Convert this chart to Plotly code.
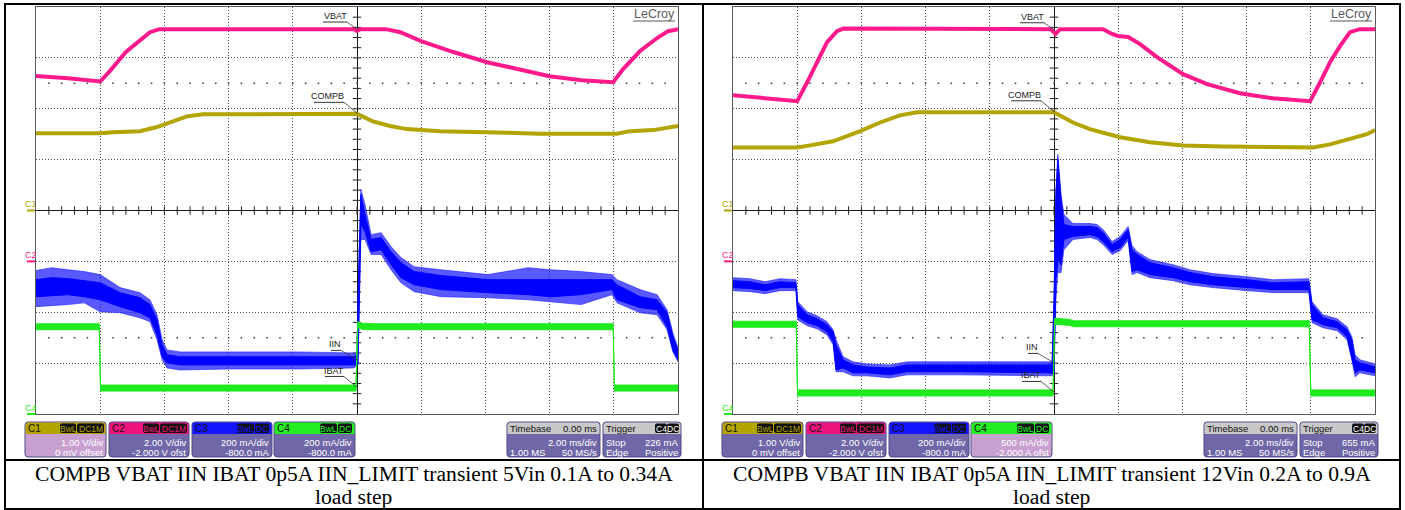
import numpy as np
import plotly.graph_objects as go

W, H = 1405, 510

# ======================= DATA (read from the two captures) =======================
# time in ms (2 ms/div, trigger at centre), voltages in V, currents in mA

# ---- left capture: 5 Vin, 0.1 A -> 0.34 A load step ----
L_VBAT_T = [-10, -9.0, -8.0, -7.7, -7.2, -6.76, -6.45, -6.15, -0.1, 0.0, 0.1, 0.9, 1.35, 2.0, 3.0,
            4.05, 5.0, 6.0, 7.0, 7.98, 8.29, 8.82, 9.35, 9.69, 10]
L_VBAT_V = [7.29, 7.20, 7.07, 7.48, 8.23, 8.66, 9.01, 9.13, 9.13, 9.06, 9.13, 9.13, 9.01, 8.66, 8.23,
            7.83, 7.56, 7.28, 7.12, 7.04, 7.56, 8.27, 8.78, 9.05, 9.13]

L_COMPB_T = [-10, -8.0, -7.6, -6.76, -6.23, -5.73, -5.30, -4.80, -0.1, 0.0, 0.50, 1.03, 1.56, 2.59,
             4.67, 5.70, 8.10, 8.50, 9.22, 10]
L_COMPB_V = [1.52, 1.52, 1.54, 1.56, 1.64, 1.75, 1.85, 1.89, 1.90, 1.90, 1.75, 1.66, 1.60, 1.56,
             1.53, 1.51, 1.51, 1.56, 1.58, 1.66]

L_IIN_T = [-10, -9.5, -9.0, -8.5, -8.0, -7.38, -6.76, -6.45, -6.23, -6.07, -5.92, -5.51, -3.96, -1.78,
           -0.09, 0.0, 0.03, 0.12, 0.25, 0.44, 0.75, 1.06, 1.37, 1.78, 2.62, 4.08, 5.33, 6.04, 6.98,
           7.94, 8.10, 8.82, 9.35, 9.66, 9.84, 10.0]
L_IIN_LO = [461, 465, 469, 461, 449, 422, 398, 378, 311, 225, 201, 193, 193, 193, 193, 193, 193, 745,
            717, 638, 646, 587, 536, 508, 489, 477, 469, 461, 469, 489, 449, 418, 410, 343, 252, 213]
L_IIN_HI = [528, 536, 532, 524, 516, 477, 457, 430, 370, 272, 233, 225, 225, 225, 225, 233, 449, 863,
            784, 686, 694, 638, 595, 560, 544, 528, 528, 528, 528, 528, 508, 461, 449, 398, 303, 252]
L_IIN_PK_LO = [422, 426, 430, 437, 402, 398, 378, 363, 292, 213, 181, 173, 177, 177, 181, 193, 193, 686,
               686, 627, 627, 567, 516, 481, 461, 457, 449, 441, 430, 469, 437, 398, 390, 331, 244, 205]
L_IIN_PK_HI = [564, 575, 567, 560, 548, 497, 477, 449, 390, 292, 252, 244, 244, 244, 240, 233, 449, 883,
               824, 705, 713, 658, 615, 579, 567, 548, 575, 567, 560, 548, 528, 489, 469, 410, 319, 260]

L_IBAT_T = [-10, -8.03, -7.99, -0.03, 0.02, 0.15, 0.5, 7.98, 8.02, 10]
L_IBAT_MA = [343, 343, 102, 102, 351, 345, 343, 343, 102, 102]

# ---- right capture: 12 Vin, 0.2 A -> 0.9 A load step ----
R_VBAT_T = [-10, -9.0, -8.0, -7.69, -7.38, -7.07, -6.76, -6.57, -0.1, 0.05, 0.19, 1.53, 1.81, 1.99,
            2.31, 2.68, 3.21, 4.02, 4.77, 5.79, 6.82, 7.98, 8.29, 8.60, 8.91, 9.22, 9.53, 10]
R_VBAT_V = [6.53, 6.41, 6.30, 7.04, 7.83, 8.62, 9.05, 9.15, 9.13, 8.94, 9.13, 9.13, 8.94, 8.86,
            8.82, 8.54, 8.03, 7.36, 6.97, 6.61, 6.41, 6.30, 7.04, 7.83, 8.46, 9.01, 9.13, 9.13]

R_COMPB_T = [-10, -8.0, -7.60, -6.88, -6.04, -5.42, -4.80, -4.27, 0.0, 0.59, 1.12, 2.06, 2.99, 4.02,
             5.26, 6.82, 8.07, 8.60, 9.22, 9.75, 10]
R_COMPB_V = [1.24, 1.24, 1.28, 1.36, 1.56, 1.73, 1.87, 1.93, 1.93, 1.73, 1.60, 1.44, 1.34, 1.28,
             1.26, 1.24, 1.24, 1.30, 1.40, 1.50, 1.58]

R_IIN_T = [-10, -9.47, -9.0, -8.54, -8.04, -7.98, -7.69, -7.38, -7.07, -6.88, -6.79, -6.57, -6.26,
           -5.83, -5.11, -4.58, -2.93, -0.06, 0.0, 0.06, 0.12, 0.22, 0.31, 0.59, 1.12, 1.34, 1.53,
           1.81, 2.06, 2.31, 2.43, 2.59, 2.99, 3.71, 4.24, 4.95, 6.01, 6.82, 7.94, 8.04, 8.38, 8.82,
           9.13, 9.28, 9.38, 9.53, 10.0]
R_IIN_LO = [497, 493, 485, 497, 497, 382, 359, 347, 323, 284, 173, 181, 162, 162, 154, 166, 166, 162,
            162, 528, 607, 587, 686, 698, 705, 698, 678, 638, 654, 694, 560, 567, 548, 536, 520, 508,
            497, 489, 489, 370, 351, 339, 303, 225, 162, 173, 162]
R_IIN_HI = [524, 520, 508, 520, 516, 430, 390, 374, 351, 323, 272, 213, 193, 185, 181, 193, 193, 193,
            449, 863, 1001, 843, 745, 737, 737, 733, 713, 666, 686, 725, 646, 627, 595, 575, 556, 540,
            528, 516, 520, 430, 378, 363, 331, 292, 213, 201, 185]
R_IIN_PK_LO = [485, 481, 473, 485, 485, 370, 347, 335, 311, 272, 166, 166, 150, 150, 142, 154, 154, 150,
               162, 449, 556, 556, 646, 686, 694, 686, 666, 627, 642, 682, 548, 556, 536, 524, 508, 497,
               485, 477, 477, 359, 339, 327, 292, 213, 146, 162, 150]
R_IIN_PK_HI = [536, 532, 520, 532, 528, 441, 402, 386, 363, 331, 292, 225, 205, 197, 193, 205, 205, 205,
               449, 883, 1021, 863, 784, 749, 749, 745, 725, 678, 698, 737, 662, 638, 607, 587, 567, 552,
               540, 528, 532, 441, 390, 374, 343, 303, 233, 213, 197]

R_IBAT_T = [-10, -8.03, -7.99, -0.03, 0.02, 0.5, 0.6, 7.95, 8.0, 10]
R_IBAT_MA = [882, 882, 207, 207, 912, 900, 887, 887, 207, 207]

# ---- scope settings (per div, offset) ----
L_CH = {'C1': (1.0, 0.0), 'C2': (2.0, -2.0), 'C3': (200.0, -800.0), 'C4': (200.0, -800.0)}
R_CH = {'C1': (1.0, 0.0), 'C2': (2.0, -2.0), 'C3': (200.0, -800.0), 'C4': (500.0, -2000.0)}
L_TRIG_MA = 226
R_TRIG_MA = 655

L_BOX_TEXT = [('C1', '1.00 V/div', '0 mV offset'), ('C2', '2.00 V/div', '-2.000 V ofst'),
              ('C3', '200 mA/div', '-800.0 mA'), ('C4', '200 mA/div', '-800.0 mA')]
R_BOX_TEXT = [('C1', '1.00 V/div', '0 mV offset'), ('C2', '2.00 V/div', '-2.000 V ofst'),
              ('C3', '200 mA/div', '-800.0 mA'), ('C4', '500 mA/div', '-2.000 A ofst')]
TIMEBASE_TEXT = ('Timebase', '0.00 ms', '2.00 ms/div', '1.00 MS', '50 MS/s')
CAPTIONS = ['COMPB VBAT IIN IBAT 0p5A IIN_LIMIT transient 5Vin 0.1A to 0.34A',
            'COMPB VBAT IIN IBAT 0p5A IIN_LIMIT transient 12Vin 0.2A to 0.9A']
CAPTION_LINE2 = 'load step'

# ======================= STYLE / GEOMETRY =======================
COL = {'C1': '#B3A400', 'C2': '#FF1A8C', 'C3': '#0000FF', 'C4': '#1EEB1E'}
HDR = {'C1': '#B3A400', 'C2': '#F0157D', 'C3': '#1414FF', 'C4': '#22EE22'}
BODY = '#6F67A8'
BODY_SEL = '#C9A1D1'
BOX_EDGE = '#4F4889'
SANS = 'Liberation Sans, Arial, sans-serif'
SERIF = 'Liberation Serif, Times New Roman, serif'

GX = [36, 733]        # left edge of each graticule (px)
GW = 642
GT, GB = 7, 414
CY = (GT + GB) / 2
DPY = (GB - GT) / 8.0

fig = go.Figure()
shapes = []
annos = []


def P(px, py):
    return px / W, 1 - py / H


def line_px(x0, y0, x1, y1, color='black', width=1):
    a, b = P(x0, y0)
    c, d = P(x1, y1)
    shapes.append(dict(type='line', xref='paper', yref='paper', x0=a, y0=b, x1=c, y1=d,
                       line=dict(color=color, width=width), layer='above'))


def rrect(x0, y0, x1, y1, r_top, r_bot, fill, edge=None):
    def pt(x, y):
        a, b = P(x, y)
        return f'{a:.6f},{b:.6f}'
    path = (f'M{pt(x0 + r_top, y0)} L{pt(x1 - r_top, y0)} Q{pt(x1, y0)} {pt(x1, y0 + r_top)} '
            f'L{pt(x1, y1 - r_bot)} Q{pt(x1, y1)} {pt(x1 - r_bot, y1)} L{pt(x0 + r_bot, y1)} '
            f'Q{pt(x0, y1)} {pt(x0, y1 - r_bot)} L{pt(x0, y0 + r_top)} Q{pt(x0, y0)} {pt(x0 + r_top, y0)} Z')
    shapes.append(dict(type='path', xref='paper', yref='paper', path=path, fillcolor=fill,
                       line=dict(color=edge or fill, width=1 if edge else 0), layer='above'))


def text_px(px, py, s, size=9.5, color='white', xanchor='left', family=SANS):
    a, b = P(px, py)
    annos.append(dict(x=a, y=b, xref='paper', yref='paper', text=s, showarrow=False,
                      xanchor=xanchor, yanchor='middle', font=dict(size=size, color=color, family=family),
                      borderpad=0))


def to_div(vals, ch):
    per, off = ch
    return (np.asarray(vals, float) + off) / per


def band(t, lo, hi, color, fillcolor, xa, ya, w=1.0):
    fig.add_trace(go.Scatter(x=t, y=lo, mode='lines', line=dict(color=color, width=w),
                             xaxis=xa, yaxis=ya, hoverinfo='skip', showlegend=False))
    fig.add_trace(go.Scatter(x=t, y=hi, mode='lines', line=dict(color=color, width=w),
                             fill='tonexty', fillcolor=fillcolor,
                             xaxis=xa, yaxis=ya, hoverinfo='skip', showlegend=False))


panels = [
    dict(x0=GX[0], ch=L_CH, vbat=(L_VBAT_T, L_VBAT_V), compb=(L_COMPB_T, L_COMPB_V),
         iin=(L_IIN_T, L_IIN_LO, L_IIN_HI, L_IIN_PK_LO, L_IIN_PK_HI), ibat=(L_IBAT_T, L_IBAT_MA),
         trig=L_TRIG_MA, boxes=L_BOX_TEXT, sel='C1', caption=CAPTIONS[0], cell=(5, 703)),
    dict(x0=GX[1], ch=R_CH, vbat=(R_VBAT_T, R_VBAT_V), compb=(R_COMPB_T, R_COMPB_V),
         iin=(R_IIN_T, R_IIN_LO, R_IIN_HI, R_IIN_PK_LO, R_IIN_PK_HI), ibat=(R_IBAT_T, R_IBAT_MA),
         trig=R_TRIG_MA, boxes=R_BOX_TEXT, sel='C4', caption=CAPTIONS[1], cell=(703, 1400)),
]

layout_axes = {}
for i, p in enumerate(panels):
    sfx = '' if i == 0 else str(i + 1)
    xa, ya = 'x' + sfx, 'y' + sfx
    x0 = p['x0']
    common = dict(showgrid=True, gridcolor='#505050', griddash='1px,2px', gridwidth=1,
                  zeroline=True, zerolinecolor='#1a1a1a', zerolinewidth=1,
                  showline=True, mirror=True, linecolor='#5a5a5a', linewidth=1,
                  showticklabels=False, ticks='', fixedrange=True)
    layout_axes['xaxis' + sfx] = dict(domain=[x0 / W, (x0 + GW) / W], range=[-10, 10], dtick=2,
                                      tick0=-10, anchor=ya, **common)
    layout_axes['yaxis' + sfx] = dict(domain=[1 - GB / H, 1 - GT / H], range=[-4, 4], dtick=1,
                                      tick0=-4, anchor=xa, **common)

    # --- minor ticks on centre lines and sparse dotted rows ---
    ticks_x = [-10 + 0.4 * k for k in range(1, 50)]
    ticks_y = [-4 + 0.2 * k for k in range(1, 40)]
    fig.add_trace(go.Scatter(x=ticks_x, y=[0] * len(ticks_x), mode='markers', xaxis=xa, yaxis=ya,
                             marker=dict(symbol='line-ns', size=6, line=dict(width=1, color='#222')),
                             hoverinfo='skip', showlegend=False))
    fig.add_trace(go.Scatter(x=[0] * len(ticks_y), y=ticks_y, mode='markers', xaxis=xa, yaxis=ya,
                             marker=dict(symbol='line-ew', size=6, line=dict(width=1, color='#222')),
                             hoverinfo='skip', showlegend=False))
    for yy in (2.5, -2.5):
        fig.add_trace(go.Scatter(x=ticks_x, y=[yy] * len(ticks_x), mode='markers', xaxis=xa, yaxis=ya,
                                 marker=dict(symbol='square', size=1.6, color='#444', line=dict(width=0)),
                                 hoverinfo='skip', showlegend=False))

    ch = p['ch']
    # C1 COMPB
    ct, cv = p['compb']
    cdiv = to_div(cv, ch['C1'])
    fig.add_trace(go.Scatter(x=ct, y=cdiv, mode='lines', line=dict(color=COL['C1'], width=4),
                             xaxis=xa, yaxis=ya, hoverinfo='skip', showlegend=False))
    # C2 VBAT
    vt, vv = p['vbat']
    vdiv = to_div(vv, ch['C2'])
    fig.add_trace(go.Scatter(x=vt, y=vdiv, mode='lines', line=dict(color=COL['C2'], width=4),
                             xaxis=xa, yaxis=ya, hoverinfo='skip', showlegend=False))
    # C3 IIN (noise envelope + core)
    it, ilo, ihi, iplo, iphi = p['iin']
    band(it, to_div(iplo, ch['C3']), to_div(iphi, ch['C3']), 'rgba(25,25,255,0.72)',
         'rgba(25,25,255,0.72)', xa, ya, w=0.8)
    band(it, to_div(ilo, ch['C3']), to_div(ihi, ch['C3']), '#0000FF', '#0000FF', xa, ya, w=1.0)
    # C4 IBAT (drawn as a 6 px tall trace band)
    bt, bv = p['ibat']
    bdiv = to_div(bv, ch['C4'])
    hh = 3.0 / DPY
    band(bt, bdiv - hh, bdiv + hh, COL['C4'], COL['C4'], xa, ya, w=1.0)

    # --- trigger markers ---
    trig_div = (p['trig'] + ch['C4'][1]) / ch['C4'][0]
    fig.add_trace(go.Scatter(x=[10 + 6 * 20 / GW], y=[trig_div], mode='markers', xaxis=xa, yaxis=ya,
                             marker=dict(symbol='triangle-left', size=9, color='#22DD22'),
                             cliponaxis=False, hoverinfo='skip', showlegend=False))
    fig.add_trace(go.Scatter(x=[0], y=[-4 - 4 / DPY], mode='markers', xaxis=xa, yaxis=ya,
                             marker=dict(symbol='triangle-up', size=8, color='#22DD22'),
                             cliponaxis=False, hoverinfo='skip', showlegend=False))

    # --- channel ground markers on the left ---
    for name in ('C1', 'C2', 'C4'):
        gdiv = ch[name][1] / ch[name][0]
        gpy = CY - gdiv * DPY
        line_px(x0 - 9, gpy, x0 - 1, gpy, COL[name], 2)
        text_px(x0 - 5, gpy - 6.5, name, size=9, color=COL[name], xanchor='center')

    # --- trace labels with leader lines at the trigger point ---
    cx = x0 + GW / 2
    labels = [('VBAT', vt, vdiv, -10, 14, 24), ('COMPB', ct, cdiv, -13, 17.5, 30),
              ('IIN', it, (to_div(ilo, ch['C3']) + to_div(ihi, ch['C3'])) / 2, -16, 16, 10),
              ('IBAT', bt, bdiv, -13, 17.5, 19)]
    for name, tt, dd, dx, dy, wtxt in labels:
        tp = CY - float(np.interp(-0.05, tt, dd)) * DPY
        ty = tp - dy
        tx = cx + dx
        text_px(tx + 1, ty, name, size=9, color='#222', xanchor='right')
        line_px(tx - wtxt, ty + 6, tx, ty + 6, '#333', 1)
        line_px(tx, ty + 6, cx + 1, tp, '#333', 0.8)

    # --- LeCroy logo ---
    text_px(x0 + GW - 2, 14, 'LeCroy', size=12.5, color='#5a5a5a', xanchor='right')
    line_px(x0 + GW - 45, 21, x0 + GW - 3, 21, '#5a5a5a', 1)

    # --- channel descriptor boxes ---
    dx0 = x0 - 36
    box_x = [(25, 106), (109, 189), (192, 272), (274, 355)]
    by0, by1, hb = 422, 457, 434
    for (bx0, bx1), (name, l1, l2) in zip(box_x, p['boxes']):
        bx0 += dx0
        bx1 += dx0
        body = BODY_SEL if name == p['sel'] else BODY
        rrect(bx0, by0, bx1, by1, 3, 3, body, BOX_EDGE)
        rrect(bx0 + 0.5, by0 + 0.5, bx1 - 0.5, hb, 3, 0, HDR[name])
        text_px(bx0 + 2, 428.5, name, size=10, color='#111')
        if name in ('C1', 'C2'):
            tags = [('BwL', bx1 - 46, bx1 - 30), ('DC1M', bx1 - 29, bx1 - 2)]
        else:
            tags = [('BwL', bx1 - 35, bx1 - 18), ('DC', bx1 - 17, bx1 - 3)]
        for tg, tx0, tx1 in tags:
            rrect(tx0, 423.5, tx1, 433, 2, 2, '#111')
            text_px((tx0 + tx1) / 2, 428.5, tg, size=8.5, color=HDR[name], xanchor='center')
        text_px(bx1 - 2, 442, l1, size=9.5, xanchor='right')
        text_px(bx1 - 2, 452, l2, size=9.5, xanchor='right')

    # timebase box
    tb0, tb1 = 507 + dx0, 600 + dx0
    rrect(tb0, by0, tb1, by1, 3, 3, BODY, BOX_EDGE)
    rrect(tb0 + 0.5, by0 + 0.5, tb1 - 0.5, hb, 3, 0, '#C8C8C8')
    text_px(tb0 + 2, 428.5, TIMEBASE_TEXT[0], size=9.5, color='#111')
    text_px(tb1 - 2, 428.5, TIMEBASE_TEXT[1], size=9.5, color='#111', xanchor='right')
    text_px(tb1 - 2, 442, TIMEBASE_TEXT[2], size=9.5, xanchor='right')
    text_px(tb0 + 2, 452, TIMEBASE_TEXT[3], size=9.5)
    text_px(tb1 - 2, 452, TIMEBASE_TEXT[4], size=9.5, xanchor='right')

    # trigger box
    tr0, tr1 = 603 + dx0, 681 + dx0
    rrect(tr0, by0, tr1, by1, 3, 3, BODY, BOX_EDGE)
    rrect(tr0 + 0.5, by0 + 0.5, tr1 - 0.5, hb, 3, 0, '#C8C8C8')
    text_px(tr0 + 2, 428.5, 'Trigger', size=9.5, color='#111')
    for tg, tx0, tx1 in [('C4', tr1 - 26, tr1 - 14), ('DC', tr1 - 14, tr1 - 2)]:
        rrect(tx0, 423.5, tx1, 433, 2, 2, '#111')
        text_px((tx0 + tx1) / 2, 428.5, tg, size=8.5, color='white', xanchor='center')
    text_px(tr0 + 2, 442, 'Stop', size=9.5)
    text_px(tr1 - 2, 442, f"{p['trig']} mA", size=9.5, xanchor='right')
    text_px(tr0 + 2, 452, 'Edge', size=9.5)
    text_px(tr1 - 2, 452, 'Positive', size=9.5, xanchor='right')

    # caption
    ccx = (p['cell'][0] + p['cell'][1]) / 2
    text_px(ccx, 474, p['caption'], size=21.6, color='black', xanchor='center', family=SERIF)
    text_px(ccx, 497, CAPTION_LINE2, size=21.6, color='black', xanchor='center', family=SERIF)

# --- table borders ---
line_px(4, 4, 1401, 4, 'black', 2)
line_px(4, 509, 1401, 509, 'black', 2)
line_px(5, 4, 5, 510, 'black', 2)
line_px(703, 4, 703, 510, 'black', 2)
line_px(1400, 4, 1400, 510, 'black', 2)
line_px(5, 460, 1400, 460, 'black', 2)

fig.update_layout(width=W, height=H, margin=dict(l=0, r=0, t=0, b=0),
                  paper_bgcolor='white', plot_bgcolor='white', showlegend=False,
                  hovermode=False, shapes=shapes, annotations=annos, **layout_axes)

fig.write_html('out.html')
